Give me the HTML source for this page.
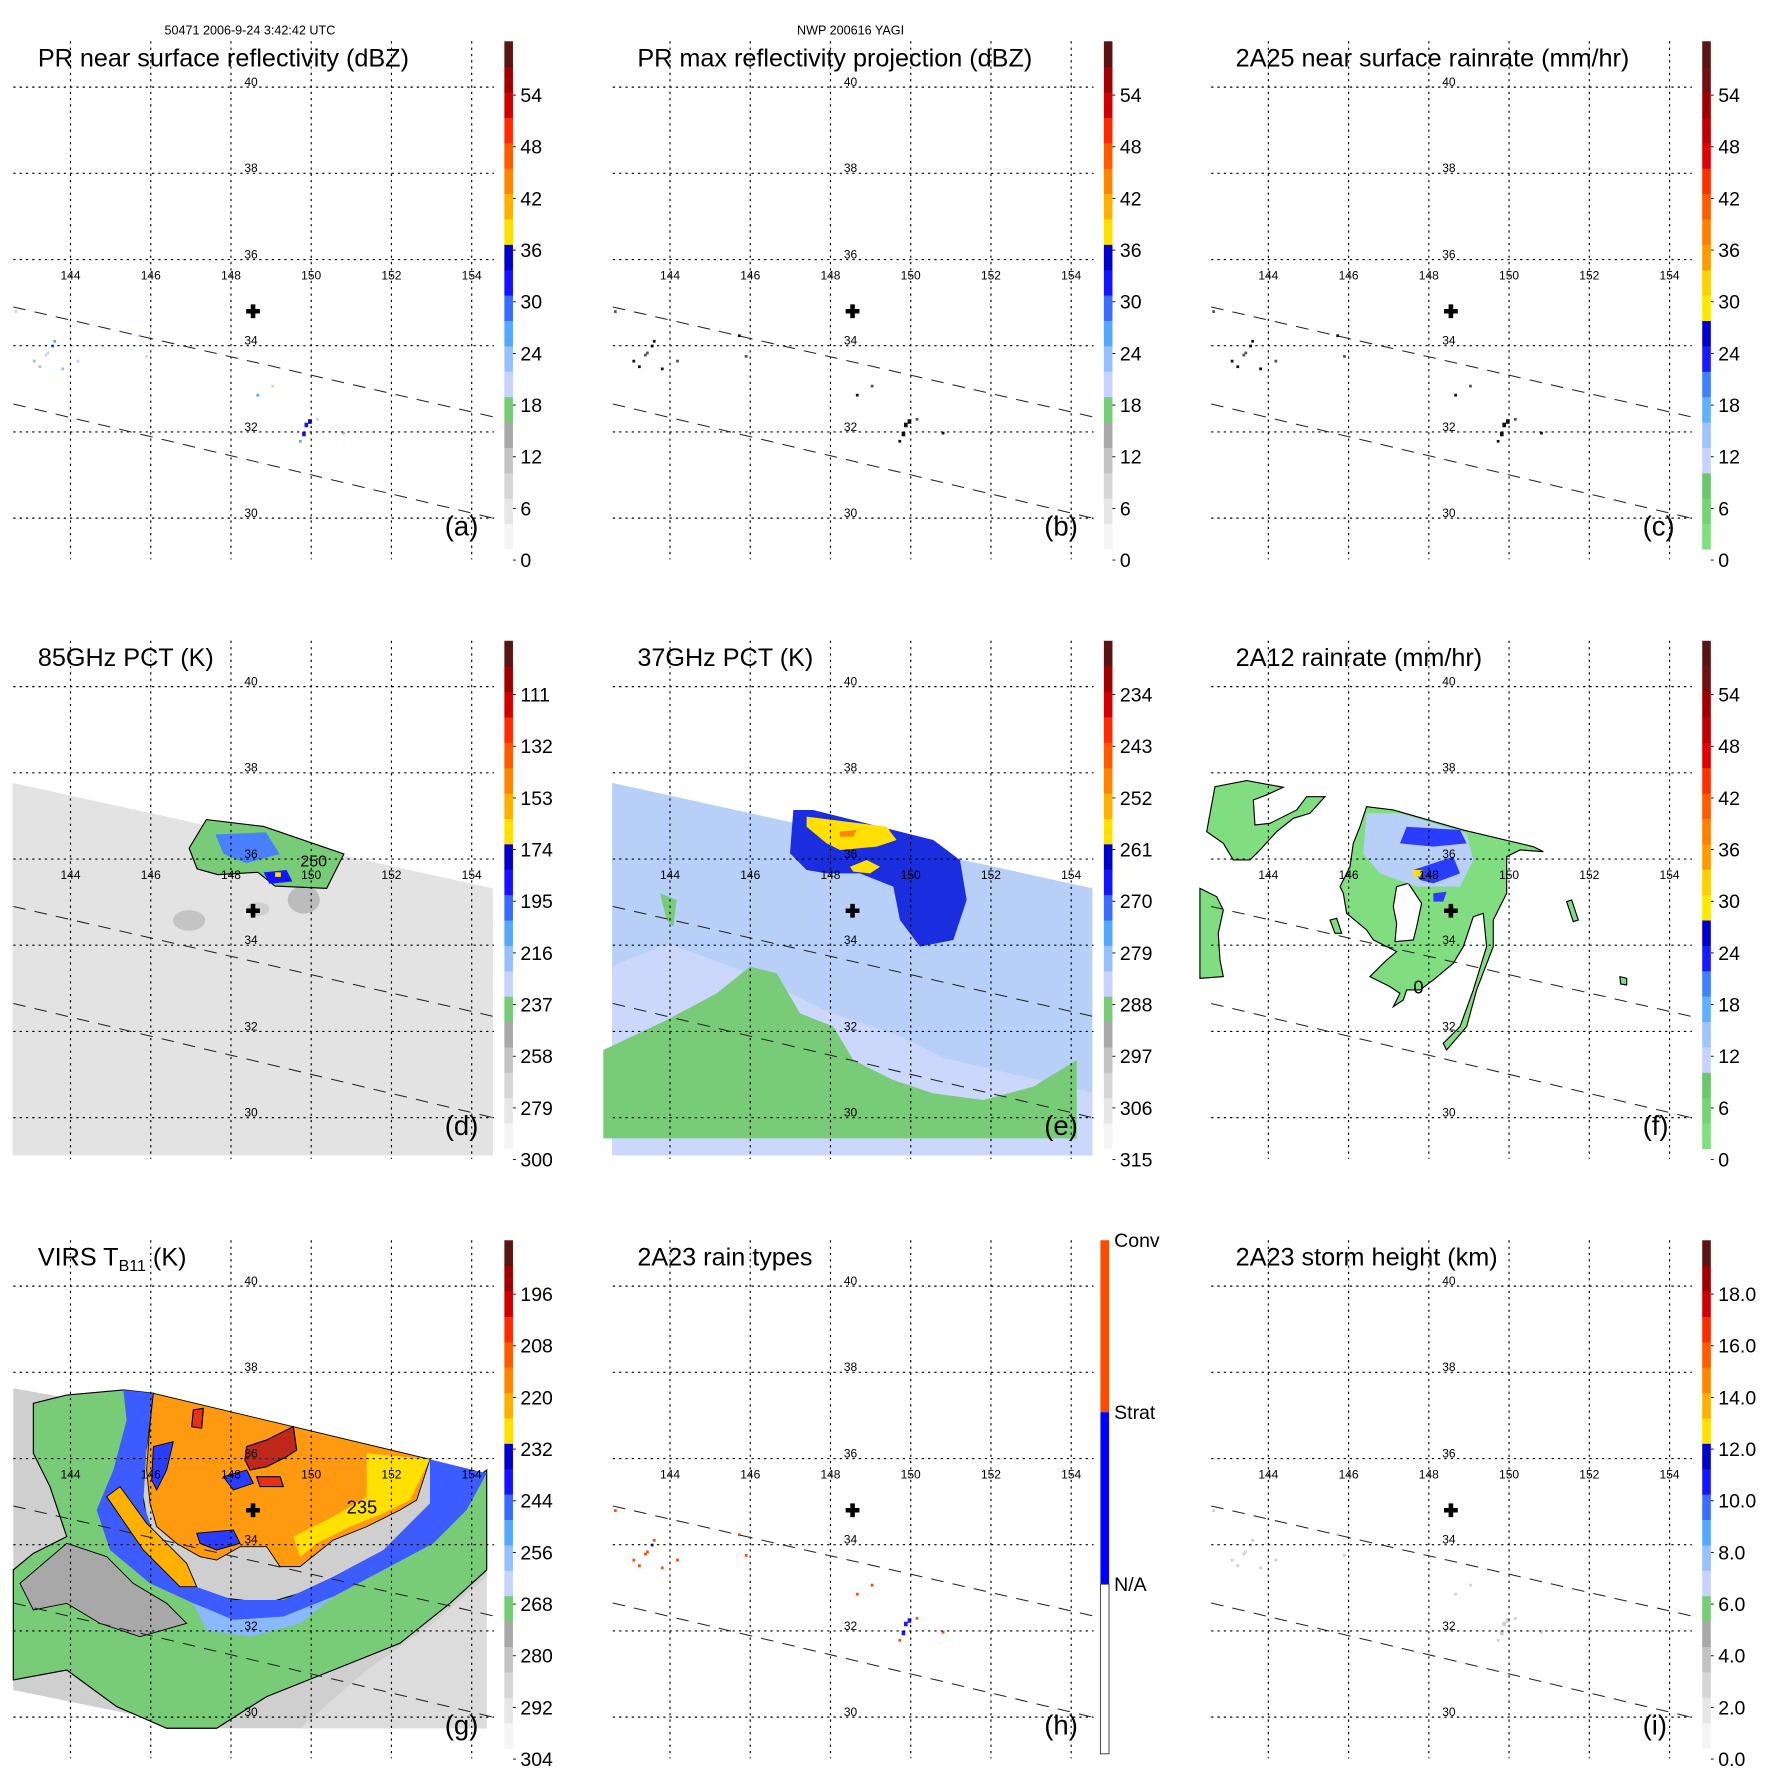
<!DOCTYPE html>
<html><head><meta charset="utf-8">
<style>
html,body{margin:0;padding:0;background:#fff;}
svg{display:block;font-family:"Liberation Sans",sans-serif;}
</style></head>
<body>
<svg id="fig" width="1771" height="1771" viewBox="0 0 1545 1545" xmlns="http://www.w3.org/2000/svg"></svg>
<script>
// ---- data arrays ----
const lonTicks = [144,146,148,150,152,154];
const latTicks = [30,32,34,36,38,40];
const ticksA = ['0','6','12','18','24','30','36','42','48','54'];
const ticksD = ['300','279','258','237','216','195','174','153','132','111'];
const ticksE = ['315','306','297','288','279','270','261','252','243','234'];
const ticksG = ['304','292','280','268','256','244','232','220','208','196'];
const ticksI = ['0.0','2.0','4.0','6.0','8.0','10.0','12.0','14.0','16.0','18.0'];
const echoLon = [143.61,143.56,143.44,143.39,143.10,143.24,143.81,144.19,145.90,145.73,142.64,149.87,149.96,149.81,149.73,150.16,150.81,148.67,149.04];
const echoLat = [34.10,33.99,33.83,33.78,33.64,33.51,33.46,33.64,33.75,34.23,34.79,32.18,32.26,31.97,31.78,32.29,31.97,32.85,33.06];
const echoVal = [25,28,20,18,22,22,22,18,18,22,18,32,33,30,24,18,22,24,18];
const stormLon = [148.55];
const stormLat = [34.8];

const colorsA = ['#f5f5f5','#e6e6e6','#d6d6d6','#c2c2c2','#a8a8a8','#78cc78','#c8d2ff','#98c0ff','#55a8ff','#3c6cff','#1414ff','#0000cc','#ffe000','#ffb000','#ff8400','#ff5a00','#ff2a00','#d00000','#a00000','#5a1414'];
const colorsC = ['#80e080','#74d474','#6cc66c','#c8d2ff','#a0c4ff','#60b0ff','#4080ff','#1a1aff','#0000c8','#ffe800','#ffd000','#ff9a00','#ff8000','#ff5a00','#ff3000','#e00000','#c00000','#a00000','#701010','#5a1414'];

// ---- helpers ----
const NS='http://www.w3.org/2000/svg';
const svg=document.getElementById('fig');
function mk(tag,attrs,parent){const e=document.createElementNS(NS,tag);for(const k in attrs)e.setAttribute(k,attrs[k]);(parent||svg).appendChild(e);return e;}
function xOf(lon){return 61.5+(lon-144)*35;}
function yOf(lat){return 452-(lat-30)*37.6;}
function cbY(v){return 479-v*(443/60);}
function colorFor(cols,v){let i=Math.floor(v/3);if(i<0)i=0;if(i>19)i=19;return cols[i];}
function zp(ox,oy,pts){return pts.map(p=>((ox+p[0]/3)/1.1463).toFixed(1)+','+((oy+p[1]/3)/1.1463).toFixed(1)).join(' ');}

const panels=[
 {id:'a',ox:0,oy:0,title:'PR near surface reflectivity (dBZ)',ticks:ticksA,cols:colorsA,echo:'a'},
 {id:'b',ox:523,oy:0,title:'PR max reflectivity projection (dBZ)',ticks:ticksA,cols:colorsA,echo:'b'},
 {id:'c',ox:1045,oy:0,title:'2A25 near surface rainrate (mm/hr)',ticks:ticksA,cols:colorsC,echo:'c'},
 {id:'d',ox:0,oy:523,title:'85GHz PCT (K)',ticks:ticksD,cols:colorsA},
 {id:'e',ox:523,oy:523,title:'37GHz PCT (K)',ticks:ticksE,cols:colorsA},
 {id:'f',ox:1045,oy:523,title:'2A12 rainrate (mm/hr)',ticks:ticksA,cols:colorsC},
 {id:'g',ox:0,oy:1046,title:'VIRS',ticks:ticksG,cols:colorsA},
 {id:'h',ox:523,oy:1046,title:'2A23 rain types',ticks:null,cols:null,echo:'h'},
 {id:'i',ox:1045,oy:1046,title:'2A23 storm height (km)',ticks:ticksI,cols:colorsA,echo:'i'}
];

let t=mk('text',{x:218,y:30,'font-size':11,'text-anchor':'middle'});t.textContent='50471 2006-9-24 3:42:42 UTC';


t=mk('text',{x:742,y:30,'font-size':11,'text-anchor':'middle'});t.textContent='NWP 200616 YAGI';



panels.forEach(p=>{
 const g=mk('g',{transform:`translate(${p.ox},${p.oy})`});
 
 
 const field=mk('g',{},g);
 
 
 drawField(p.id,field);
 if(p.echo){
  for(let i=0;i<echoLon.length;i++){
   let c;
   if(p.echo==='a')c=colorFor(colorsA,echoVal[i]);
   else if(p.echo==='b'||p.echo==='c')c=echoVal[i]>20?'#111':'#555';
   else if(p.echo==='h')c=echoVal[i]>26?'#1a1aff':'#ff4a00';
   else c='#cfcfcf';
   const r=mk('rect',{x:xOf(echoLon[i])-1.3,y:yOf(echoLat[i])-1.3,width:echoVal[i]>28?3.2:2.4,height:echoVal[i]>28?4:2.4,fill:c},g);
   
   
  }
 }
 lonTicks.forEach(lon=>{
  const l=mk('line',{x1:xOf(lon),x2:xOf(lon),y1:36,y2:488,stroke:'#000','stroke-width':1,'stroke-dasharray':'2,3.5'},g);
  
  
  const tx=mk('text',{x:xOf(lon),y:244,'font-size':10.5,'text-anchor':'middle'},g);tx.textContent=lon;
  
  
 });
 latTicks.forEach(lat=>{
  const l=mk('line',{x1:11.6,x2:431,y1:yOf(lat),y2:yOf(lat),stroke:'#000','stroke-width':1,'stroke-dasharray':'2,3.5'},g);
  
  
  const tx=mk('text',{x:219,y:yOf(lat)-1,'font-size':10.5,'text-anchor':'middle'},g);tx.textContent=lat;
  
  
 });
 [[267.8,363.6],[352.4,452]].forEach(s=>{
  const l=mk('line',{x1:11.6,y1:s[0],x2:430,y2:s[1],stroke:'#222','stroke-width':0.9,'stroke-dasharray':'11,8'},g);
  
  
 });
 for(let i=0;i<stormLon.length;i++){
  const cx=xOf(stormLon[i]),cy=yOf(stormLat[i]);
  const c=mk('path',{d:`M${cx-6},${cy-2}h12v4h-12z M${cx-2},${cy-6}h4v12h-4z`,fill:'#000'},g);
  
  
 }
 const tt=mk('text',{x:33,y:58,'font-size':22},g);
 if(p.id==='g'){tt.innerHTML='VIRS T<tspan font-size="14" dy="5">B11</tspan><tspan dy="-5"> (K)</tspan>';}
 else tt.textContent=p.title;
 
 
 const pl=mk('text',{x:388,y:467,'font-size':24},g);pl.textContent='('+p.id+')';
 
 
 const cb=mk('g',{},g);
 
 
 if(p.cols){
  for(let i=0;i<20;i++){
   const r=mk('rect',{x:440,y:cbY(i*3+3),width:7.5,height:443/20+0.4,fill:p.cols[i]},cb);
   
   
  }
  p.ticks.forEach((lab,i)=>{
   const yy=488.6-i*45.07;
   mk('line',{x1:447.5,x2:450,y1:yy,y2:yy,stroke:'#000','stroke-width':0.8},cb);
   const tx=mk('text',{x:454,y:yy+6,'font-size':17},cb);tx.textContent=lab;
   
   
  });
 } else {
  mk('rect',{x:437,y:36,width:7.5,height:150,fill:'#ff4a00'},cb);
  mk('rect',{x:437,y:186,width:7.5,height:150,fill:'#0000ff'},cb);
  mk('rect',{x:437,y:336,width:7.5,height:148,fill:'#fff',stroke:'#333','stroke-width':0.8},cb);
  [['Conv',36],['Strat',186],['N/A',336]].forEach(a=>{
   const tx=mk('text',{x:449,y:a[1]+6,'font-size':17},cb);tx.textContent=a[0];
   
   
  });
 }
});

function poly(parent,pts,fill,stroke,sw,name){
 const e=mk('polygon',{points:pts,fill:fill,stroke:stroke||'none','stroke-width':sw||0},parent);
 
 
 return e;
}
function drawField(id,f){
 if(id==='d'){
  poly(f,'11,160 430,252 430,485 11,485','#e3e3e3',null,0,'swath');
  mk('ellipse',{cx:165,cy:280,rx:14,ry:9,fill:'#c4c4c4'},f);
  mk('ellipse',{cx:265,cy:262,rx:14,ry:12,fill:'#bcbcbc'},f);
  mk('ellipse',{cx:225,cy:270,rx:10,ry:6,fill:'#cfcfcf'},f);
  poly(f,'165,217 180,192 230,198 300,222 285,252 240,250 225,238 190,240 172,235','#78cc78','#000',1,'cold-region');
  poly(f,'188,205 232,203 244,222 215,230 195,222','#4a80ff',null,0,'ice-region');
  poly(f,'230,238 250,236 255,246 235,248','#1414ff',null,0,'ice-core');
  mk('rect',{x:240,y:238,width:5,height:4,fill:'#ffe000'},f);
  const tx=mk('text',{x:262,y:233,'font-size':14},f);tx.textContent='250';
  
  
 }
 if(id==='e'){
  const OX=600-523*1.1463, OY=760-523*1.1463;
  poly(f,'11,160 430,252 430,485 11,485','#b8cff8',null,0,'swath');
  poly(f,'60,300 140,330 200,360 260,380 300,400 430,430 430,485 11,485 11,320','#cbd8fc',null,0,'light-region');
  poly(f,zp(OX,OY,[[10,870],[200,780],[350,700],[450,620],[530,640],[600,760],[700,800],[760,900],[880,960],[1000,1000],[1150,1020],[1300,980],[1430,900],[1430,1135],[10,1135]]),'#78cc78',null,0,'warm-ocean-region');
  poly(f,zp(OX,OY,[[180,400],[230,420],[220,500],[200,480]]),'#78cc78',null,0,'warm-patch');
  poly(f,zp(OX,OY,[[580,150],[640,150],[880,210],[1000,240],[1080,300],[1100,420],[1060,540],[960,560],[900,480],[880,380],[780,340],[680,340],[620,330],[570,280]]),'#1a2ee0',null,0,'scattering-region');
  poly(f,zp(OX,OY,[[620,170],[860,200],[890,240],[830,260],[720,270],[680,250],[620,200]]),'#ffe000',null,0,'strong-scattering');
  poly(f,zp(OX,OY,[[750,320],[800,300],[840,320],[810,340],[760,335]]),'#ffe000',null,0,'strong-scattering');
  poly(f,zp(OX,OY,[[720,215],[770,210],[760,230],[720,230]]),'#ff8400',null,0,'max-scattering');
 }
 if(id==='f'){
  const OX=1200-1045*1.1463, OY=760-523*1.1463;
  const G='#80dd80';
  poly(f,zp(OX,OY,[[20,215],[45,80],[140,62],[250,82],[200,105],[160,120],[165,195],[210,190],[290,150],[320,110],[375,110],[330,160],[280,175],[230,215],[180,270],[150,300],[100,300],[70,250]]),G,'#000',1,'rain-area');
  poly(f,zp(OX,OY,[[0,385],[50,410],[70,450],[55,520],[60,600],[70,650],[0,655]]),G,'#000',1,'rain-area');
  poly(f,zp(OX,OY,[[500,140],[580,150],[790,210],[1000,260],[1030,275],[960,270],[920,290],[920,400],[880,480],[880,560],[830,690],[800,800],[740,870],[730,850],[780,800],[820,690],[860,560],[850,460],[820,470],[790,560],[760,610],[700,660],[660,690],[620,690],[610,720],[580,740],[600,700],[570,680],[510,650],[560,600],[590,575],[520,540],[500,510],[440,460],[430,400],[420,380],[450,320],[460,250],[480,200]]),G,'#000',1,'rain-area');
  poly(f,zp(OX,OY,[[590,380],[625,370],[665,430],[650,500],[640,540],[585,545],[590,490],[580,440]]),'#fff','#000',1,'rain-free-eye');
  poly(f,zp(OX,OY,[[500,160],[600,160],[800,220],[820,300],[780,380],[650,380],[540,340],[490,280]]),'#b8cff8',null,0,'light-rain');
  poly(f,zp(OX,OY,[[620,200],[780,210],[800,250],[700,260],[600,250]]),'#2a3cff',null,0,'moderate-rain');
  poly(f,zp(OX,OY,[[640,330],[760,290],[780,340],[700,370],[660,360]]),'#2a3cff',null,0,'moderate-rain');
  poly(f,zp(OX,OY,[[700,400],[740,395],[730,425],[700,425]]),'#2a3cff',null,0,'moderate-rain');
  poly(f,zp(OX,OY,[[640,330],[670,330],[660,350],[640,350]]),'#ffe000',null,0,'heavy-rain');
  poly(f,zp(OX,OY,[[1100,425],[1115,420],[1135,480],[1120,485]]),G,'#000',1,'rain-area');
  poly(f,zp(OX,OY,[[390,480],[410,475],[425,520],[405,520]]),G,'#000',1,'rain-area');
  poly(f,zp(OX,OY,[[1260,650],[1280,655],[1280,675],[1262,672]]),G,'#000',1,'rain-area');
  const pt=zp(OX,OY,[[640,700]]).split(',');
  const tx=mk('text',{x:pt[0],y:pt[1],'font-size':16},f);tx.textContent='0';
  
  
 }
 if(id==='g'){
  const OX=0, OY=1370-1046*1.1463;
  poly(f,zp(OX,OY,[[40,55],[1460,310],[1460,1075],[600,1075],[40,960]]),'#cfcfcf',null,0,'swath');
  poly(f,zp(OX,OY,[[100,100],[200,75],[370,60],[460,70],[440,230],[420,330],[450,500],[530,620],[640,680],[800,700],[1000,640],[1150,560],[1300,420],[1460,300],[1460,600],[1350,700],[1200,820],[1000,900],[800,980],[650,1075],[500,1075],[350,1010],[200,900],[40,930],[40,600],[100,550],[200,500],[150,350],[100,250]]),'#78cc78','#000',1,'cloud-band');
  poly(f,zp(OX,OY,[[200,520],[320,560],[400,640],[500,700],[560,760],[420,800],[300,760],[200,700],[100,720],[60,640]]),'#a8a8a8','#000',0.8,'low-cloud');
  poly(f,zp(OX,OY,[[1460,620],[1460,1075],[900,1075],[1100,900],[1300,760]]),'#dcdcdc',null,0,'clear-area');
  poly(f,zp(OX,OY,[[370,60],[460,70],[440,230],[430,400],[470,520],[560,640],[700,690],[850,690],[1000,620],[1150,540],[1290,400],[1290,268],[1460,310],[1400,420],[1300,520],[1150,600],[1000,680],[850,740],[700,750],[580,700],[450,640],[330,540],[290,420],[340,300],[380,150]]),'#3c5cff',null,0,'cold-band');
  poly(f,zp(OX,OY,[[580,700],[700,750],[850,740],[1000,680],[900,760],[750,800],[620,780]]),'#8ab8ff',null,0,'cirrus');
  poly(f,zp(OX,OY,[[460,70],[1290,268],[1250,390],[1200,420],[1100,470],[1000,510],[900,590],[840,590],[800,530],[720,530],[650,570],[600,560],[530,520],[470,470],[450,400],[440,300],[450,160]]),'#ff9a10','#000',0.8,'cold-cloud-top');
  poly(f,zp(OX,OY,[[1100,250],[1290,268],[1230,390],[1150,430],[1050,470],[950,520],[900,560],[880,500],[1000,440],[1100,380]]),'#ffe000',null,0,'warmer-top');
  poly(f,zp(OX,OY,[[320,380],[360,350],[440,460],[560,580],[590,650],[540,650],[430,540]]),'#ffb000','#000',0.8,'rainband-top');
  poly(f,zp(OX,OY,[[460,230],[520,215],[500,300],[470,360],[455,330]]),'#2a3cff','#000',0.8,'blue-patch');
  poly(f,zp(OX,OY,[[590,490],[700,480],[720,520],[650,540],[600,520]]),'#2a3cff','#000',0.8,'blue-patch');
  poly(f,zp(OX,OY,[[670,320],[740,300],[760,340],[700,360]]),'#2a3cff','#000',0.8,'blue-patch');
  poly(f,zp(OX,OY,[[740,230],[800,210],[880,170],[890,240],[860,260],[800,290],[750,300],[735,270]]),'#c0281c','#000',1,'coldest-top');
  poly(f,zp(OX,OY,[[580,120],[610,115],[605,175],[575,170]]),'#e83018','#000',1,'cold-patch');
  poly(f,zp(OX,OY,[[770,320],[840,320],[850,350],[780,350]]),'#e83018','#000',1,'cold-patch');
  const pt=zp(OX,OY,[[1040,430]]).split(',');
  const tx=mk('text',{x:pt[0],y:pt[1],'font-size':16},f);tx.textContent='235';
  
  
 }
}
</script>
</body></html>
